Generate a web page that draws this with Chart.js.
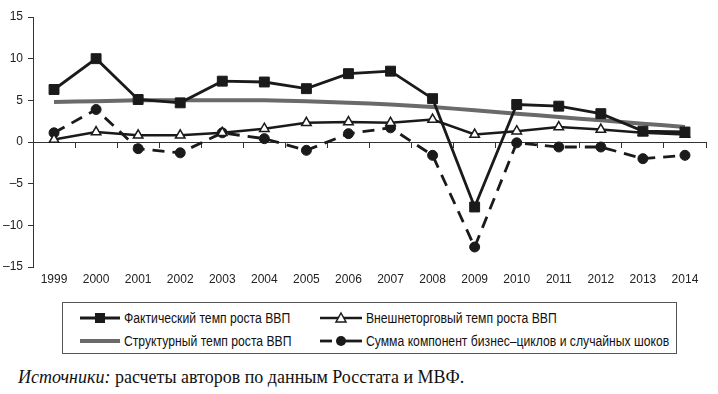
<!DOCTYPE html>
<html>
<head>
<meta charset="utf-8">
<script src="https://cdn.jsdelivr.net/npm/chart.js@4/dist/chart.umd.min.js"></script>
<style>
  body { margin: 0; background: #fff; width: 718px; height: 394px; position: relative; overflow: hidden; }
  #wrap { position: absolute; left: 0; top: 0; width: 718px; height: 290px; }
  .legende { position: absolute; left: 62px; top: 302px; width: 615px; height: 52px; border: 1px solid #555; box-sizing: border-box; }
  .item { position: absolute; font-family: "Liberation Sans", sans-serif; font-size: 14px; color: #111; line-height: 16px; white-space: nowrap; }
  .item svg { position: absolute; top: 0; }
  .item span { position: absolute; top: 0; transform: scaleX(0.87); transform-origin: left center; }
  .source { position: absolute; left: 18px; top: 367px; font-family: "Liberation Serif", serif; font-size: 18px; color: #111; white-space: nowrap; }
</style>
</head>
<body>
<div id="wrap"><canvas id="graphique"></canvas></div>

<div class="legende" id="legende"></div>
<div class="source"><i>Источники:</i> расчеты авторов по данным Росстата и МВФ.</div>

<script>
// Données
const annees = ["1999","2000","2001","2002","2003","2004","2005","2006","2007","2008","2009","2010","2011","2012","2013","2014"];
const factique = [6.3, 10.0, 5.1, 4.7, 7.3, 7.2, 6.4, 8.2, 8.5, 5.2, -7.8, 4.5, 4.3, 3.4, 1.3, 1.2];
const externe = [0.3, 1.2, 0.8, 0.8, 1.1, 1.6, 2.3, 2.4, 2.3, 2.7, 0.9, 1.3, 1.8, 1.5, 1.1, 0.9];
const structurel = [4.8, 4.9, 5.0, 5.0, 5.0, 5.0, 4.9, 4.7, 4.5, 4.2, 3.8, 3.4, 3.0, 2.6, 2.2, 1.8];
const chocs = [1.1, 3.9, -0.8, -1.3, 1.1, 0.4, -1.0, 1.0, 1.7, -1.6, -12.6, -0.1, -0.6, -0.6, -2.0, -1.6];
const ticksY = [-15, -10, -5, 0, 5, 10, 15];
const libelles = ["Фактический темп роста ВВП", "Внешнеторговый темп роста ВВП", "Структурный темп роста ВВП", "Сумма компонент бизнес–циклов и случайных шоков"];

const police = { family: "'Liberation Sans', sans-serif", size: 12 };

// Jeux de données
const data = {
    labels: annees,
    datasets: [
        { label: libelles[0], data: factique, borderColor: "#1a1a1a", borderWidth: 2.8,
          pointStyle: "rect", pointRadius: 7, pointBackgroundColor: "#1a1a1a", pointBorderColor: "#1a1a1a", pointBorderWidth: 1 },
        { label: libelles[1], data: externe, borderColor: "#1a1a1a", borderWidth: 2.5,
          pointStyle: "triangle", pointRadius: 5.5, pointBackgroundColor: "#fff", pointBorderColor: "#1a1a1a", pointBorderWidth: 1.5 },
        { label: libelles[2], data: structurel, borderColor: "#6a6a6a", borderWidth: 4, pointRadius: 0, tension: 0.3 },
        { label: libelles[3], data: chocs, borderColor: "#1a1a1a", borderWidth: 2.8, borderDash: [12, 8],
          pointStyle: "circle", pointRadius: 5, pointBackgroundColor: "#1a1a1a", pointBorderColor: "#1a1a1a", pointBorderWidth: 1 }
    ]
};

const config = {
    type: "line",
    data: data,
    options: {
        responsive: true,
        maintainAspectRatio: false,
        animation: false,
        layout: { padding: { top: 17, right: 12, left: 0, bottom: 0 } },
        plugins: { legend: { display: false }, tooltip: { enabled: false } },
        scales: {
            x: {
                type: "category",
                offset: true,
                position: "bottom",
                grid: { display: false, drawTicks: false },
                border: { display: false },
                ticks: { color: "#222", font: police, padding: 5, maxRotation: 0, autoSkip: false },
                afterFit: function (scale) { scale.height = 23; }
            },
            x2: {
                type: "category",
                labels: annees,
                offset: true,
                position: { y: 0 },
                grid: { display: true, drawOnChartArea: false, offset: true, tickLength: 5, color: "#333", lineWidth: 1 },
                border: { display: true, color: "#333", width: 1 },
                ticks: { display: false }
            },
            y: {
                min: -15,
                max: 15,
                afterBuildTicks: function (scale) { scale.ticks = ticksY.map(v => ({ value: v })); },
                grid: { display: true, drawOnChartArea: false, tickLength: 5, color: "#333" },
                border: { display: true, color: "#333", width: 1 },
                ticks: { color: "#222", font: police, padding: 5,
                         callback: v => String(v).replace("-", "–") },
                afterFit: function (scale) { scale.width = 33; }
            }
        }
    }
};

new Chart(document.querySelector("#graphique"), config);

// Légende en HTML
const icones = [
    '<svg width="40" height="16"><line x1="0" y1="8" x2="40" y2="8" stroke="#1a1a1a" stroke-width="2.8"/><rect x="15" y="3" width="10" height="10" fill="#1a1a1a"/></svg>',
    '<svg width="42" height="16"><line x1="0" y1="8" x2="42" y2="8" stroke="#1a1a1a" stroke-width="2.5"/><polygon points="21,3 26,12 16,12" fill="#fff" stroke="#1a1a1a" stroke-width="1.5"/></svg>',
    '<svg width="40" height="16"><line x1="0" y1="8" x2="40" y2="8" stroke="#6a6a6a" stroke-width="4"/></svg>',
    '<svg width="42" height="16"><line x1="0" y1="8" x2="12" y2="8" stroke="#1a1a1a" stroke-width="2.8"/><line x1="24" y1="8" x2="42" y2="8" stroke="#1a1a1a" stroke-width="2.8"/><circle cx="21" cy="8" r="5" fill="#1a1a1a"/></svg>'
];
const positions = [
    { x: 17, y: 7, texte: 44 },
    { x: 257, y: 7, texte: 46 },
    { x: 17, y: 30, texte: 44 },
    { x: 257, y: 30, texte: 46 }
];
const legende = document.querySelector("#legende");
for (let i = 0; i < libelles.length; i++) {
    const el = document.createElement("div");
    el.className = "item";
    el.style.left = positions[i].x + "px";
    el.style.top = positions[i].y + "px";
    el.innerHTML = icones[i] + `<span style="left:${positions[i].texte}px">${libelles[i]}</span>`;
    legende.appendChild(el);
}
</script>
</body>
</html>
